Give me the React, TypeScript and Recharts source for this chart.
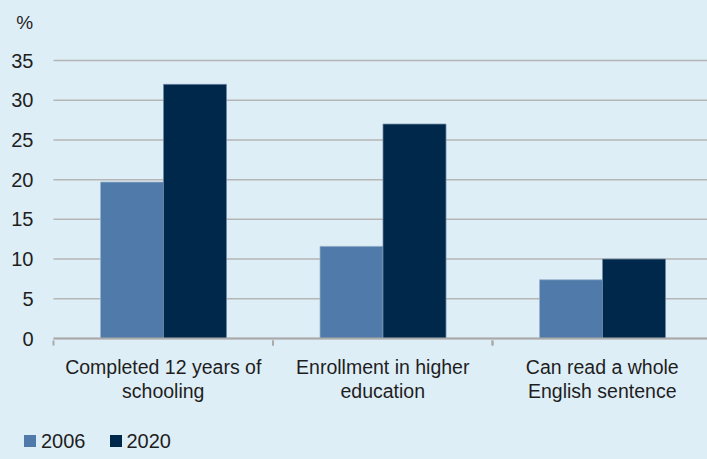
import { BarChart, Bar, XAxis, YAxis, CartesianGrid, Legend } from "recharts"

const categories = [
  "Completed 12 years of\nschooling",
  "Enrollment in higher\neducation",
  "Can read a whole\nEnglish sentence",
]
const values2006 = [19.7, 11.6, 7.4]
const values2020 = [32, 27, 10]
const yTicks = [0, 5, 10, 15, 20, 25, 30, 35]

const c2006 = "#4f7aa9"
const c2020 = "#00284a"
const textColor = "#1e1e1e"
const font = "'Liberation Sans', Arial, sans-serif"

const data = categories.map((name, i) => ({
  name,
  y2006: values2006[i],
  y2020: values2020[i],
}))

function CategoryTick(props: any) {
  const { x, y, payload } = props
  const half = payload?.offset || 109.75
  const lines = String(payload.value).split("\n")
  return (
    <g>
      <line x1={x - half} y1={y} x2={x - half} y2={y + 5} stroke="#aaaaaa" strokeWidth={2} />
      <line x1={x + half} y1={y} x2={x + half} y2={y + 5} stroke="#aaaaaa" strokeWidth={2} />
      <text x={x} y={y} textAnchor="middle" fill={textColor} fontSize={19.5} fontFamily={font}>
        {lines.map((l, i) => (
          <tspan key={i} x={x} dy={i === 0 ? 33 : 24}>{l}</tspan>
        ))}
      </text>
    </g>
  )
}

function LegendBox() {
  const items = [
    { label: "2006", color: c2006 },
    { label: "2020", color: c2020 },
  ]
  return (
    <div style={{ display: "flex", alignItems: "center", fontFamily: font, fontSize: 20, color: textColor, height: 24 }}>
      {items.map((it) => (
        <div key={it.label} style={{ display: "flex", alignItems: "center", marginRight: 24 }}>
          <span style={{ width: 12, height: 12, background: it.color, display: "inline-block", marginRight: 5 }} />
          <span>{it.label}</span>
        </div>
      ))}
    </div>
  )
}

export default function App() {
  return (
    <div style={{ position: "absolute", left: 0, top: 0, width: 707, height: 459, background: "#deeef7", overflow: "hidden" }}>
      <BarChart
        width={712}
        height={459}
        data={data}
        margin={{ top: 60.5, right: 0, left: 0, bottom: 26.5 }}
        barCategoryGap={47}
        barGap={0}
      >
        <CartesianGrid vertical={false} stroke="#b5b5b5" strokeWidth={1.5} />
        <XAxis
          dataKey="name"
          height={70}
          axisLine={{ stroke: "#aaaaaa", strokeWidth: 2 }}
          tickLine={false}
          tickSize={0}
          tick={<CategoryTick />}
          interval={0}
        />
        <YAxis
          width={53.5}
          domain={[0, 35]}
          ticks={yTicks}
          axisLine={false}
          tickLine={false}
          tickSize={0}
          tickMargin={20}
          tick={{ fill: textColor, fontSize: 20, fontFamily: font }}
          label={{ value: "%", position: "top", offset: 32, dx: -2, fill: textColor, fontSize: 19, fontFamily: font }}
        />
        <Legend
          content={<LegendBox />}
          wrapperStyle={{ left: 24, bottom: 6, width: "auto" }}
        />
        <Bar dataKey="y2006" name="2006" fill={c2006} stroke="#9db4c9" strokeWidth={0.75} isAnimationActive={false} />
        <Bar dataKey="y2020" name="2020" fill={c2020} stroke="#6f8aa6" strokeWidth={0.75} isAnimationActive={false} />
      </BarChart>
    </div>
  )
}
